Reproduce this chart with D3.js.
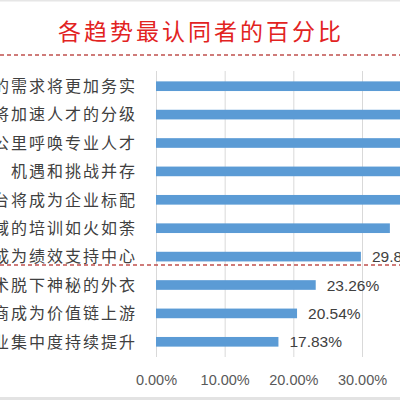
<!DOCTYPE html>
<html>
<head>
<meta charset="utf-8">
<script src="https://cdn.jsdelivr.net/npm/d3@7"></script>
<style>
  body { margin: 0; background: #fff; }
  svg { display: block; }
</style>
</head>
<body>
<div id="chart"></div>
<script>
// data (first five bars run off the right edge, values estimated)
var titleText = "各趋势最认同者的百分比";
var categories = [
  "企业对培训的需求将更加务实",
  "技术将加速人才的分级",
  "最后一公里呼唤专业人才",
  "机遇和挑战并存",
  "学习平台将成为企业标配",
  "细分领域的培训如火如荼",
  "培训部门将成为绩效支持中心",
  "学习技术脱下神秘的外衣",
  "内容供应商成为价值链上游",
  "行业集中度持续提升"
];
var values = [52.0, 46.5, 42.0, 39.0, 37.0, 34.06, 29.84, 23.26, 20.54, 17.83];
var tickVals = [0, 10, 20, 30, 40, 50];

var width = 400, height = 400;

var svg = d3.select("#chart").append("svg")
  .attr("width", width)
  .attr("height", height);

// scales: 0% sits at x=156, 30% at x=362
var x = d3.scaleLinear().domain([0, 60]).range([156, 568]);
var y = d3.scaleBand().domain(categories).range([72, 356]).paddingInner(0.66).paddingOuter(0.33);

// frame bits
svg.append("rect").attr("x", 0).attr("y", 0).attr("width", width).attr("height", 1.5).attr("fill", "#e6e6e6");
svg.append("rect").attr("x", 0).attr("y", 397).attr("width", width).attr("height", 3).attr("fill", "#e3e3e3");

// title
svg.append("text")
  .attr("x", 201)
  .attr("y", 40)
  .attr("text-anchor", "middle")
  .attr("font-family", "'Noto Sans CJK SC', sans-serif")
  .attr("font-size", 23)
  .attr("letter-spacing", 3)
  .attr("fill", "#e2231f")
  .text(titleText);

// gridlines
svg.append("g").selectAll("line")
  .data(tickVals)
  .join("line")
  .attr("x1", function(d) { return x(d) + 0.5; })
  .attr("x2", function(d) { return x(d) + 0.5; })
  .attr("y1", 71)
  .attr("y2", 357)
  .attr("stroke", "#d9d9d9")
  .attr("stroke-width", 1);

// bars
svg.append("g").selectAll("rect")
  .data(values)
  .join("rect")
  .attr("x", x(0))
  .attr("y", function(d, i) { return y(categories[i]); })
  .attr("width", function(d) { return x(d) - x(0); })
  .attr("height", y.bandwidth())
  .attr("fill", "#5b9bd5");

// value labels
svg.append("g").selectAll("text")
  .data(values)
  .join("text")
  .attr("x", function(d) { return x(d) + 11; })
  .attr("y", function(d, i) { return y(categories[i]) + y.bandwidth() / 2; })
  .attr("dy", "0.36em")
  .attr("font-family", "'Liberation Sans', sans-serif")
  .attr("font-size", 15.5)
  .attr("fill", "#404040")
  .text(function(d) { return d.toFixed(2) + "%"; });

// category labels
svg.append("g").selectAll("text")
  .data(categories)
  .join("text")
  .attr("x", 137)
  .attr("y", function(d) { return y(d) + y.bandwidth() / 2; })
  .attr("dy", "0.36em")
  .attr("text-anchor", "end")
  .attr("font-family", "'Noto Sans CJK SC', sans-serif")
  .attr("font-size", 16)
  .attr("letter-spacing", 2)
  .attr("fill", "#404040")
  .text(function(d) { return d; });

// x axis
var xAxis = svg.append("g")
  .attr("transform", "translate(0,372)")
  .call(d3.axisBottom(x).tickValues(tickVals).tickSize(0).tickFormat(function(d) { return d.toFixed(2) + "%"; }));
xAxis.select(".domain").remove();
xAxis.selectAll("text")
  .attr("font-family", "'Liberation Sans', sans-serif")
  .attr("font-size", 14.5)
  .attr("fill", "#595959");

// red dashed separators
[55, 265].forEach(function(yy) {
  svg.append("line")
    .attr("x1", 0).attr("x2", width)
    .attr("y1", yy).attr("y2", yy)
    .attr("stroke", "#c0504d")
    .attr("stroke-width", 1.3)
    .attr("stroke-dasharray", "4,3");
});
</script>
</body>
</html>
